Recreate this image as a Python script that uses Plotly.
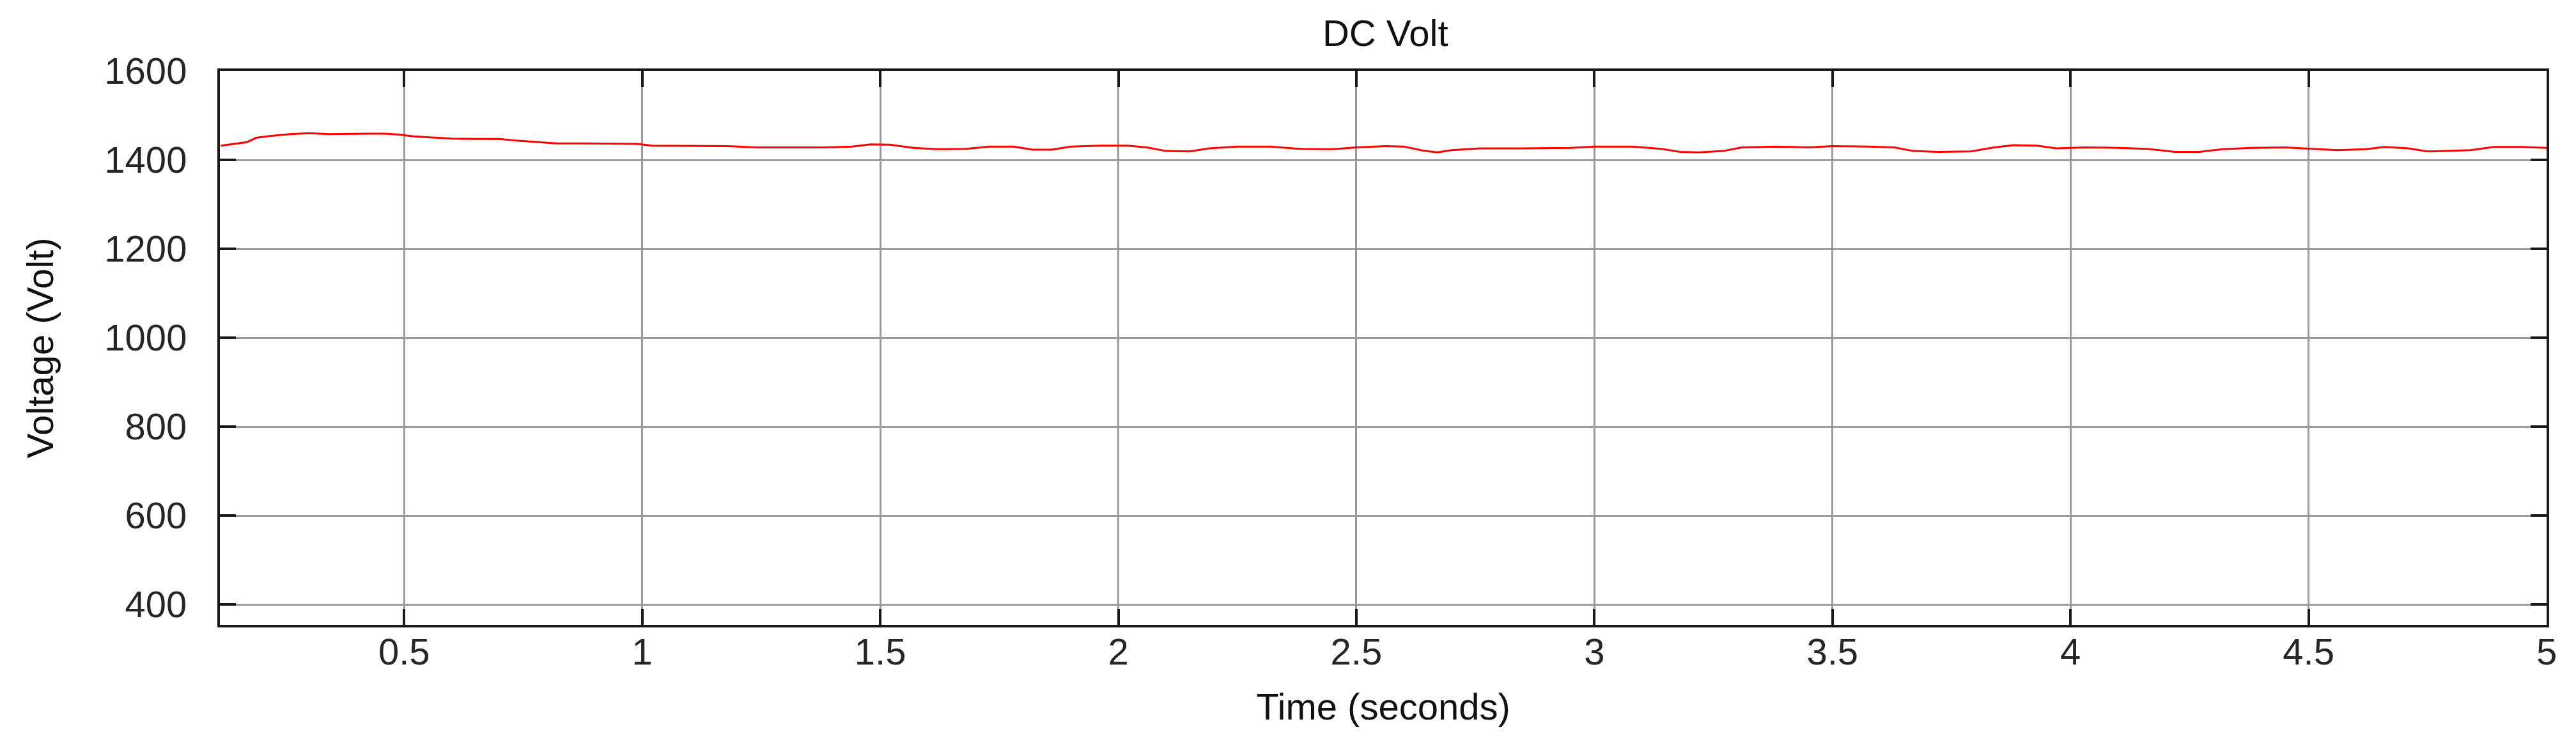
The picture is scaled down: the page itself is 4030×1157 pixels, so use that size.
import plotly.graph_objects as go

time_s = [0.115, 0.14, 0.17, 0.19, 0.22, 0.26, 0.30, 0.34, 0.38, 0.42, 0.46, 0.49,
          0.52, 0.56, 0.60, 0.65, 0.70, 0.74, 0.78, 0.82, 0.88, 0.94, 0.99,
          1.02, 1.10, 1.18, 1.24, 1.30, 1.38, 1.44, 1.48, 1.52, 1.57, 1.62, 1.68,
          1.73, 1.78, 1.82, 1.86, 1.90, 1.96, 2.02, 2.06, 2.10, 2.15, 2.19, 2.25,
          2.32, 2.38, 2.45, 2.50, 2.56, 2.60, 2.64, 2.67, 2.70, 2.76, 2.85, 2.95,
          3.00, 3.08, 3.14, 3.18, 3.22, 3.27, 3.31, 3.38, 3.45, 3.50, 3.58, 3.63,
          3.67, 3.72, 3.79, 3.84, 3.88, 3.93, 3.97, 4.03, 4.10, 4.16, 4.22, 4.27,
          4.32, 4.38, 4.45, 4.50, 4.56, 4.62, 4.66, 4.71, 4.75, 4.79, 4.84, 4.89,
          4.95, 5.0]
voltage = [1432, 1436, 1440, 1450, 1454, 1458, 1460, 1458, 1459, 1459, 1459, 1457,
           1453, 1450, 1448, 1447, 1447, 1443, 1440, 1437, 1437, 1437, 1436,
           1432, 1432, 1431, 1428, 1428, 1428, 1430, 1435, 1434, 1427, 1424, 1425,
           1430, 1430, 1423, 1423, 1430, 1432, 1432, 1428, 1420, 1419, 1426, 1430,
           1430, 1425, 1424, 1428, 1431, 1430, 1421, 1417, 1422, 1426, 1426, 1427,
           1430, 1430, 1425, 1418, 1417, 1420, 1428, 1430, 1428, 1431, 1430, 1428,
           1420, 1418, 1419, 1428, 1433, 1432, 1426, 1428, 1427, 1425, 1418, 1418,
           1424, 1427, 1428, 1425, 1422, 1424, 1429, 1426, 1419, 1420, 1422, 1429,
           1429, 1427]

x_ticks = [0.5, 1, 1.5, 2, 2.5, 3, 3.5, 4, 4.5, 5]
x_tick_labels = ["0.5", "1", "1.5", "2", "2.5", "3", "3.5", "4", "4.5", "5"]
y_ticks = [400, 600, 800, 1000, 1200, 1400, 1600]
y_tick_labels = ["400", "600", "800", "1000", "1200", "1400", "1600"]

FONT = "Liberation Sans, Arial, sans-serif"
FS = 58

fig = go.Figure()
fig.add_trace(go.Scatter(x=time_s, y=voltage, mode="lines",
                         line=dict(color="#ff0000", width=3), showlegend=False))

axis_common = dict(
    showline=True, linecolor="#1a1a1a", linewidth=4, mirror="ticks",
    showgrid=True, gridcolor="#9a9a9a", gridwidth=3,
    ticks="inside", ticklen=25, tickwidth=4, tickcolor="#1a1a1a",
    zeroline=False,
    tickfont=dict(family=FONT, size=FS, color="#262626"),
)

fig.update_layout(
    width=4030, height=1157,
    margin=dict(l=336, r=54, t=103, b=188),
    paper_bgcolor="white", plot_bgcolor="white",
    title=dict(text="DC Volt", x=0.5358, xanchor="center", y=0.962, yanchor="middle",
               yref="container",
               font=dict(family=FONT, size=FS, color="#111111")),
    xaxis=dict(range=[0.113, 5.0], tickvals=x_ticks, ticktext=x_tick_labels,
               ticklabelstandoff=-12,
               title=dict(text="Time (seconds)", standoff=36,
                          font=dict(family=FONT, size=FS, color="#111111")),
               **axis_common),
    yaxis=dict(range=[354, 1600], tickvals=y_ticks, ticktext=y_tick_labels,
               ticklabelstandoff=36,
               title=dict(text="Voltage (Volt)", standoff=62,
                          font=dict(family=FONT, size=FS, color="#111111")),
               **axis_common),
)

fig.write_html("out.html")
